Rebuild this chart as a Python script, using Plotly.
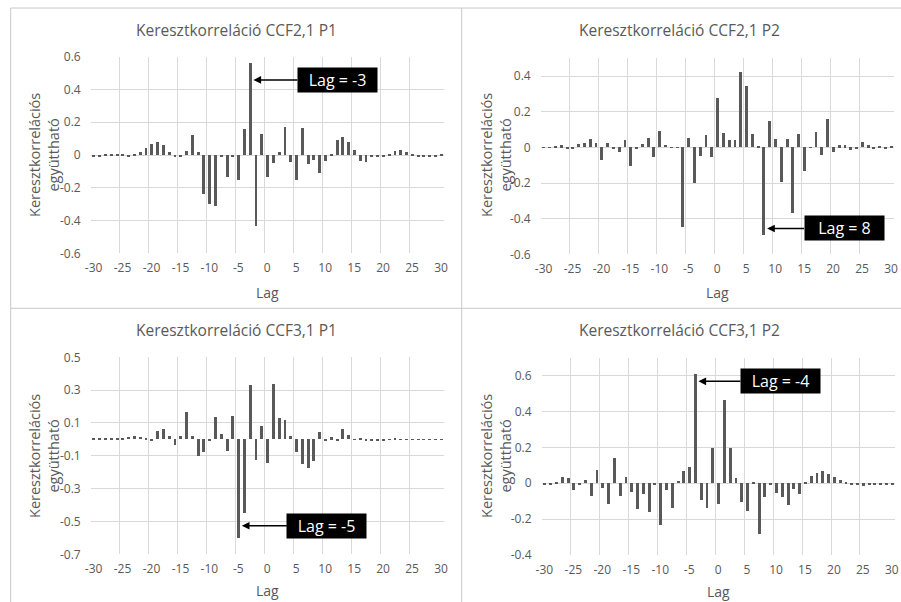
import plotly.graph_objects as go

# ---- data -------------------------------------------------------------
lags = list(range(-30, 31))
x_tick_labels = [-30, -25, -20, -15, -10, -5, 0, 5, 10, 15, 20, 25, 30]

ccf21_p1 = [
    -0.005, -0.005, 0.005, 0.005, 0.005, 0.005, -0.005, 0.005, 0.02, 0.047,
    0.072, 0.08, 0.06, 0.02, -0.005, -0.005, 0.027, 0.122, 0.02, -0.234,
    -0.295, -0.31, -0.005, -0.132, -0.005, -0.153, 0.163, 0.565, -0.43, 0.13,
    -0.132, -0.047, 0.02, 0.175, -0.04, -0.15, 0.169, -0.055, -0.03, -0.106,
    -0.035, 0.01, 0.092, 0.11, 0.08, 0.035, -0.035, -0.04, -0.005, -0.005,
    -0.012, 0.005, 0.027, 0.035, 0.02, 0.005, -0.005, -0.005, -0.005, -0.005,
    0.005,
]
ccf21_p2 = [
    -0.005, -0.005, 0.005, 0.01, -0.013, -0.013, 0.019, 0.02, 0.043, 0.025,
    -0.075, 0.025, -0.01, -0.028, 0.037, -0.104, -0.01, 0.015, 0.049, -0.056,
    0.09, 0.013, -0.005, -0.005, -0.448, 0.049, -0.2, -0.05, 0.065, -0.056,
    0.276, 0.078, 0.037, 0.037, 0.42, 0.341, 0.071, 0.005, -0.495, 0.149,
    0.047, -0.198, 0.047, -0.371, 0.071, -0.132, -0.005, 0.084, -0.045, 0.155,
    -0.026, 0.011, 0.011, -0.019, -0.008, 0.03, 0.011, -0.008, 0.006, -0.006,
    0.005,
]
ccf31_p1 = [
    0.004, 0.004, 0.004, 0.004, 0.004, 0.006, 0.014, 0.02, 0.014, 0.005,
    -0.006, 0.047, 0.059, 0.02, -0.033, 0.02, 0.165, 0.02, -0.1, -0.077,
    -0.01, 0.132, 0.028, -0.071, 0.138, -0.6, -0.453, 0.33, -0.128, 0.081,
    -0.146, 0.337, 0.13, 0.114, 0.016, -0.077, -0.154, -0.179, -0.136, 0.043,
    -0.01, 0.012, -0.01, 0.063, 0.022, -0.005, 0.006, -0.008, -0.008, -0.01,
    -0.006, -0.004, 0.006, -0.004, -0.004, -0.003, -0.004, -0.003, -0.003, -0.003,
    -0.002,
]
ccf31_p2 = [
    -0.011, -0.006, 0.007, 0.037, 0.032, -0.037, -0.006, 0.02, -0.07, 0.074,
    -0.024, -0.112, 0.143, -0.07, 0.037, -0.05, -0.141, -0.058, -0.158, -0.005,
    -0.232, -0.035, -0.134, 0.013, 0.069, 0.091, 0.61, -0.093, -0.134, 0.197,
    -0.112, 0.468, 0.197, 0.028, -0.106, -0.152, 0.007, -0.283, -0.078, -0.007,
    -0.054, -0.078, -0.119, -0.032, -0.061, 0.007, 0.043, 0.061, 0.07, 0.052,
    0.039, 0.022, 0.007, -0.005, -0.01, -0.013, -0.009, -0.005, -0.005, -0.005,
    -0.005,
]

titles = [
    "Keresztkorreláció CCF2,1 P1",
    "Keresztkorreláció CCF2,1 P2",
    "Keresztkorreláció CCF3,1 P1",
    "Keresztkorreláció CCF3,1 P2",
]
series = [ccf21_p1, ccf21_p2, ccf31_p1, ccf31_p2]
y_ticks = [
    [-0.6, -0.4, -0.2, 0, 0.2, 0.4, 0.6],
    [-0.6, -0.4, -0.2, 0, 0.2, 0.4],
    [-0.7, -0.5, -0.3, -0.1, 0.1, 0.3, 0.5],
    [-0.4, -0.2, 0, 0.2, 0.4, 0.6],
]
y_ranges = [[-0.6, 0.6], [-0.6, 0.5], [-0.7, 0.5], [-0.4, 0.7]]
peak_lags = [-3, 8, -5, -4]

# ---- layout geometry (pixels on a 901 x 602 page) ----------------------
W, H = 901, 602
FONT = "Open Sans"
GREY = "#595959"
GRID = "#d9d9d9"
BAR = "#595959"


def fx(px):
    return px / W


def fy(py):
    return 1 - py / H


# plot-area boxes: left, right, top, bottom
plot_boxes = [
    (90.7, 443.9, 56.7, 253.3),
    (540.7, 893.9, 58.4, 254.3),
    (90.7, 443.9, 357.3, 554.3),
    (541.5, 894.7, 357.8, 555.0),
]
title_pos = [(236.5, 30), (679.5, 30), (236.5, 330), (679.5, 330)]
ytitle_pos = [(44, 155), (496, 155), (44, 456), (496, 456)]
xtitle_y = [292, 292, 590, 591]
# callout: arrow-tip y (data units), box offset (px)
callouts = [
    (0.458, 84),
    (-0.455, 77),
    (-0.526, 85),
    (0.569, 82),
]

fig = go.Figure()
annotations = []

for i in range(4):
    xa = "x" if i == 0 else f"x{i + 1}"
    ya = "y" if i == 0 else f"y{i + 1}"
    fig.add_trace(go.Bar(
        x=lags, y=series[i], xaxis=xa, yaxis=ya,
        marker=dict(color=BAR, line=dict(width=0)),
        width=0.5, showlegend=False,
    ))

    l, r, t, b = plot_boxes[i]
    xkey = "xaxis" if i == 0 else f"xaxis{i + 1}"
    ykey = "yaxis" if i == 0 else f"yaxis{i + 1}"
    fig.update_layout({
        xkey: dict(
            domain=[fx(l), fx(r)], anchor=ya, range=[-30.5, 30.5],
            tickmode="array", tickvals=x_tick_labels,
            ticktext=[str(v) for v in x_tick_labels],
            showgrid=False, zeroline=False, showline=False, ticks="",
            tickfont=dict(family=FONT, size=12, color=GREY),
            ticklabelstandoff=6, automargin=False,
            minor=dict(
                tickmode="array",
                tickvals=[v - 0.5 for v in x_tick_labels[:-1]],
                showgrid=True, gridcolor=GRID, gridwidth=1, ticks="",
            ),
            fixedrange=True,
        ),
        ykey: dict(
            domain=[fy(b), fy(t)], anchor=xa, range=y_ranges[i],
            tickmode="array", tickvals=y_ticks[i],
            ticktext=[("%g" % v) for v in y_ticks[i]],
            showgrid=True, gridcolor=GRID, gridwidth=1,
            zeroline=False, showline=False, ticks="",
            tickfont=dict(family=FONT, size=12, color=GREY),
            ticklabelstandoff=9, automargin=False,
            fixedrange=True,
        ),
    })

    # chart title
    tx, ty = title_pos[i]
    annotations.append(dict(
        text=titles[i], x=fx(tx), y=fy(ty), xref="paper", yref="paper",
        showarrow=False, xanchor="center", yanchor="middle",
        font=dict(family=FONT, size=15.5, color=GREY),
    ))
    # y-axis title
    yx, yy = ytitle_pos[i]
    annotations.append(dict(
        text="Keresztkorrelációs<br>együttható", x=fx(yx), y=fy(yy),
        xref="paper", yref="paper", showarrow=False, textangle=-90,
        xanchor="center", yanchor="middle",
        font=dict(family=FONT, size=14.5, color=GREY),
    ))
    # x-axis title
    annotations.append(dict(
        text="Lag", x=fx((l + r) / 2), y=fy(xtitle_y[i]),
        xref="paper", yref="paper", showarrow=False,
        xanchor="center", yanchor="middle",
        font=dict(family=FONT, size=14, color=GREY),
    ))
    # peak-lag callout
    tip_y, offset = callouts[i]
    annotations.append(dict(
        text=f"Lag = {peak_lags[i]}", x=peak_lags[i] + 0.6, y=tip_y,
        xref=xa, yref=ya, ax=offset, ay=0,
        showarrow=True, arrowhead=2, arrowsize=1.1, arrowwidth=1.4,
        arrowcolor="black", bgcolor="black", borderpad=0,
        width=79, height=24, align="center", valign="middle",
        font=dict(family=FONT, size=16, color="white"),
    ))

# panel frame and dividers
frame = dict(color="#c8c8c8", width=1)
shapes = [
    dict(type="line", xref="paper", yref="paper", x0=fx(10.7), x1=1,
         y0=fy(8), y1=fy(8), line=frame),
    dict(type="line", xref="paper", yref="paper", x0=fx(10.7), x1=fx(10.7),
         y0=fy(8), y1=0, line=frame),
    dict(type="line", xref="paper", yref="paper", x0=fx(461.7), x1=fx(461.7),
         y0=fy(8), y1=0, line=frame),
    dict(type="line", xref="paper", yref="paper", x0=fx(10.7), x1=1,
         y0=fy(308.3), y1=fy(308.3), line=frame),
]

fig.update_layout(
    template="none",
    width=W, height=H,
    margin=dict(l=0, r=0, t=0, b=0, pad=0, autoexpand=False),
    paper_bgcolor="white", plot_bgcolor="white",
    annotations=annotations, shapes=shapes, bargap=0,
    font=dict(family=FONT, color=GREY),
)

fig.write_html("out.html", config={"displayModeBar": False})
